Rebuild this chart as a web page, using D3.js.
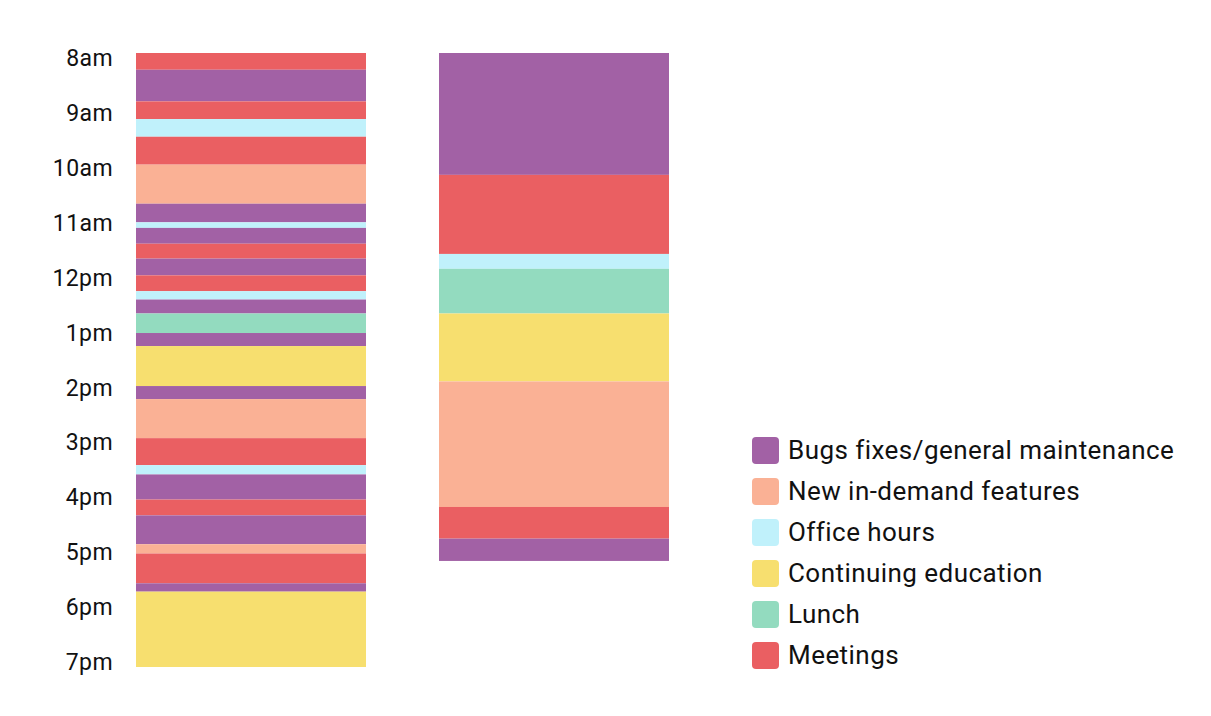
<!DOCTYPE html>
<html>
<head>
<meta charset="utf-8">
<script src="https://cdn.jsdelivr.net/npm/d3@7"></script>
<style>
  body { margin: 0; background: #fff; font-family: Roboto, "Noto Sans", sans-serif; }
  svg text { fill: #111; }
</style>
</head>
<body>
<div id="chart"></div>
<script>
// categories in legend order
const categories = ["Bugs fixes/general maintenance", "New in-demand features", "Office hours",
  "Continuing education", "Lunch", "Meetings"];
const colors = ["#a261a5", "#fab195", "#c0f1fb", "#f7df6f", "#93dbbf", "#ea5f62"];

// hour tick labels
const hourLabels = ["8am", "9am", "10am", "11am", "12pm", "1pm", "2pm", "3pm", "4pm", "5pm", "6pm", "7pm"];

// actual day: start time of each block and its category
const actualStarts = ["8:00", "8:18", "8:52", "9:11", "9:30", "10:00", "10:42", "11:02", "11:08", "11:25",
  "11:41", "11:59", "12:16", "12:25", "12:40", "13:01", "13:15", "13:58", "14:12", "14:54",
  "15:23", "15:33", "16:00", "16:17", "16:48", "16:58", "17:30", "17:39"];
const actualCats = ["Meetings", "Bugs fixes/general maintenance", "Meetings", "Office hours", "Meetings",
  "New in-demand features", "Bugs fixes/general maintenance", "Office hours", "Bugs fixes/general maintenance",
  "Meetings", "Bugs fixes/general maintenance", "Meetings", "Office hours", "Bugs fixes/general maintenance",
  "Lunch", "Bugs fixes/general maintenance", "Continuing education", "Bugs fixes/general maintenance",
  "New in-demand features", "Meetings", "Office hours", "Bugs fixes/general maintenance", "Meetings",
  "Bugs fixes/general maintenance", "New in-demand features", "Meetings", "Bugs fixes/general maintenance",
  "Continuing education"];
const actualEnd = "19:00";

// consolidated day: block starts and categories
const groupedStarts = ["8:00", "10:11", "11:36", "11:52", "12:40", "13:53", "16:08", "16:42"];
const groupedCats = ["Bugs fixes/general maintenance", "Meetings", "Office hours", "Lunch",
  "Continuing education", "New in-demand features", "Meetings", "Bugs fixes/general maintenance"];
const groupedEnd = "17:06";

const width = 1211, height = 716;
const toMin = s => { const [h, m] = s.split(":").map(Number); return h * 60 + m; };

const y = d3.scaleLinear().domain([8 * 60, 19 * 60]).range([53, 667]);
const yLabel = d3.scalePoint().domain(hourLabels).range([58, 662]);
const color = d3.scaleOrdinal().domain(categories).range(colors);

function blocks(starts, cats, end) {
  return starts.map((s, i) => ({
    start: toMin(s),
    end: toMin(i + 1 < starts.length ? starts[i + 1] : end),
    cat: cats[i]
  }));
}

const svg = d3.select("#chart").append("svg")
  .attr("width", width)
  .attr("height", height);

const columns = [
  { x: 136, w: 230, data: blocks(actualStarts, actualCats, actualEnd) },
  { x: 439, w: 230, data: blocks(groupedStarts, groupedCats, groupedEnd) }
];

columns.forEach(col => {
  svg.append("g")
    .selectAll("rect")
    .data(col.data)
    .join("rect")
    .attr("x", col.x)
    .attr("width", col.w)
    .attr("y", d => y(d.start))
    .attr("height", d => y(d.end) - y(d.start))
    .attr("fill", d => color(d.cat));
});

// hour labels
svg.append("g")
  .selectAll("text")
  .data(hourLabels)
  .join("text")
  .attr("x", 113)
  .attr("y", d => yLabel(d))
  .attr("dy", "0.35em")
  .attr("text-anchor", "end")
  .style("font-size", "23px")
  .style("letter-spacing", "0.4px")
  .text(d => d);

// legend
const legend = svg.append("g")
  .attr("transform", "translate(752,437)")
  .selectAll("g")
  .data(categories)
  .join("g")
  .attr("transform", (d, i) => `translate(0,${i * 41})`);

legend.append("rect")
  .attr("width", 27)
  .attr("height", 27)
  .attr("rx", 4)
  .attr("fill", d => color(d));

legend.append("text")
  .attr("x", 36)
  .attr("y", 12.5)
  .attr("dy", "0.35em")
  .style("font-size", "26px")
  .style("letter-spacing", "0.45px")
  .text(d => d);
</script>
</body>
</html>
